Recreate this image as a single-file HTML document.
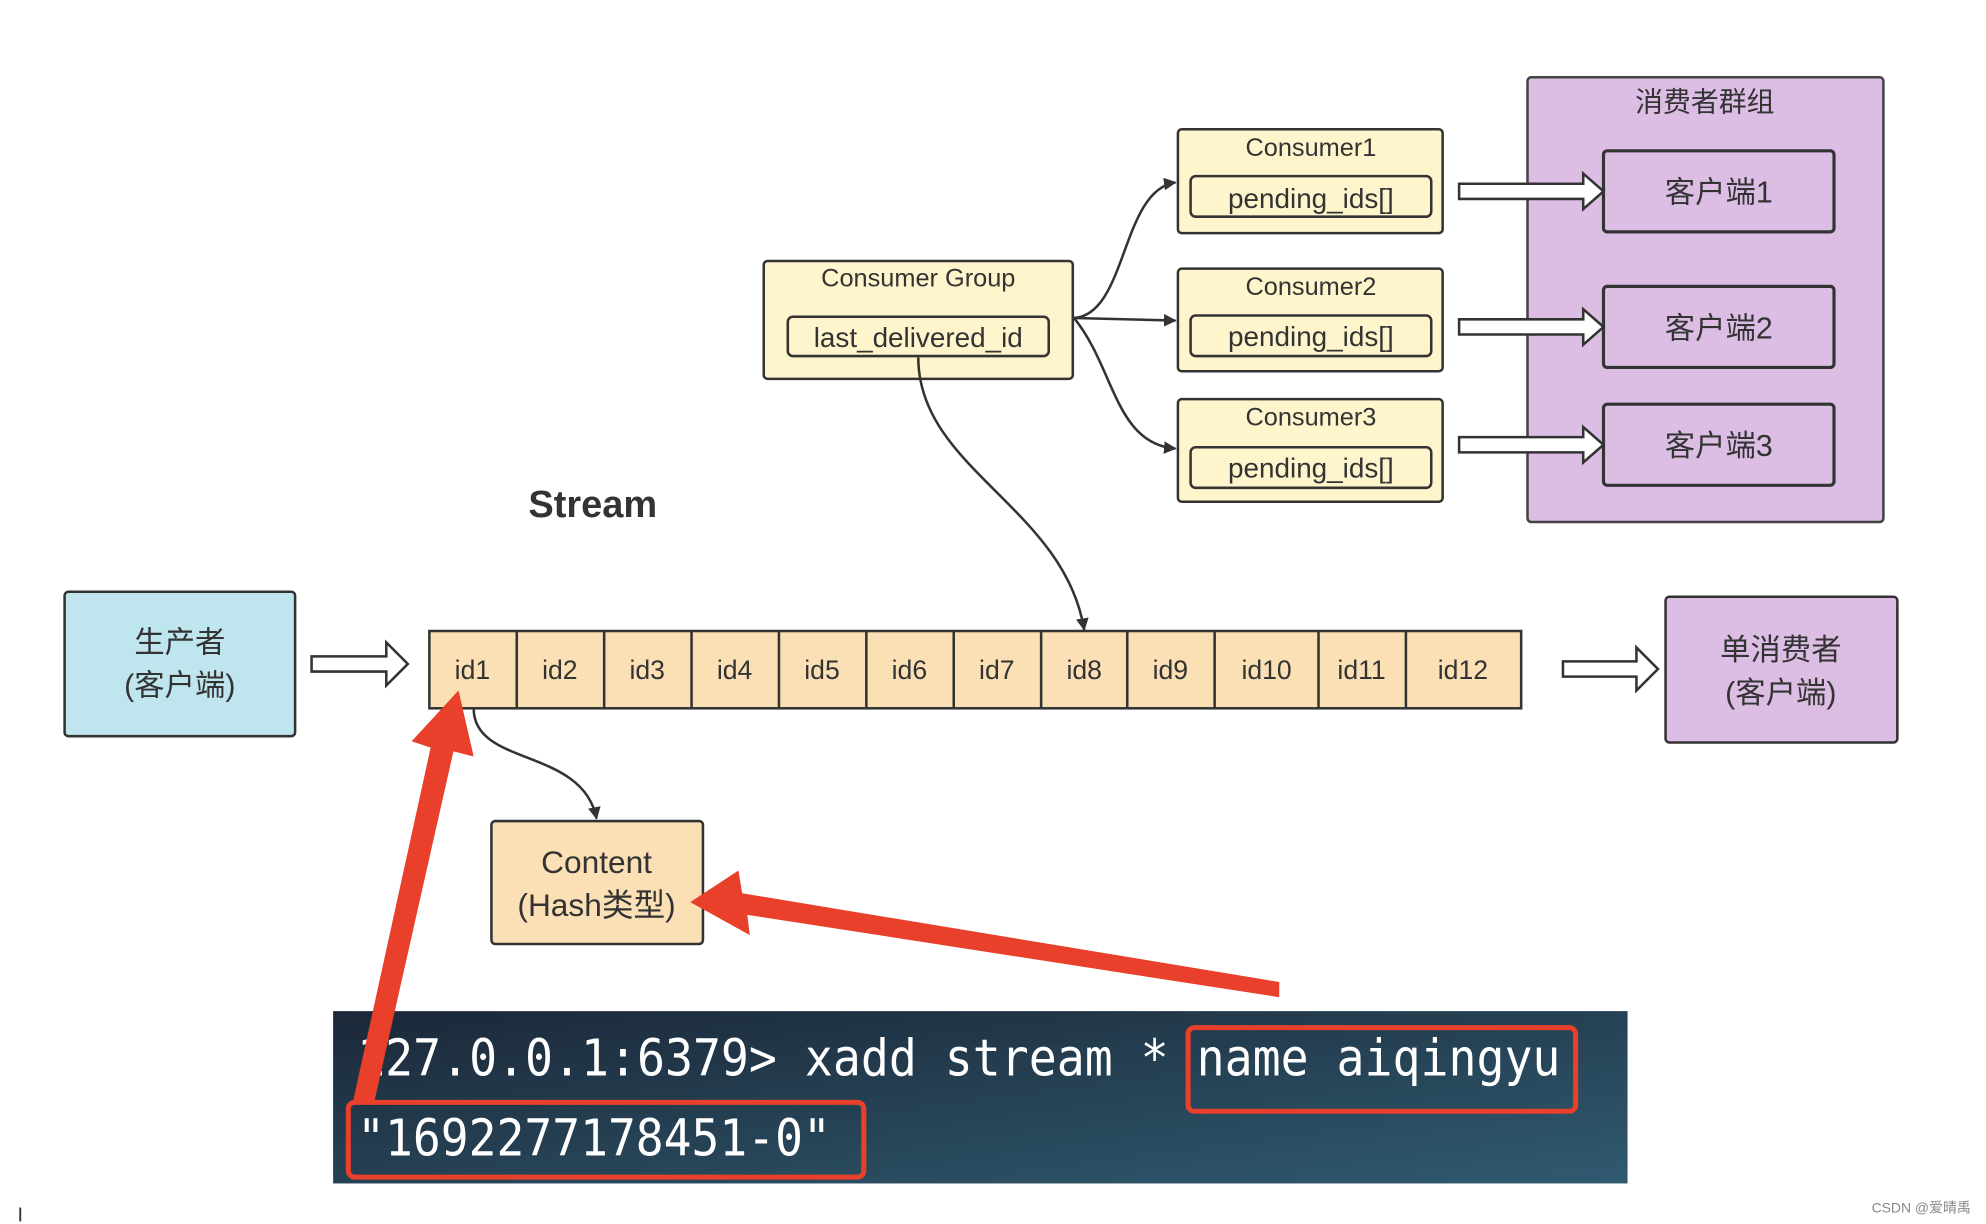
<!DOCTYPE html>
<html><head><meta charset="utf-8"><style>
html,body{margin:0;padding:0;background:#fff;width:1986px;height:1224px;overflow:hidden}
svg{display:block}
text{font-family:"Liberation Sans","Noto Sans CJK SC",sans-serif;fill:#333}
.m{font-family:"DejaVu Sans Mono","Liberation Mono",monospace;fill:#fff}
</style></head><body>
<svg width="1986" height="1224" viewBox="0 0 1568 966" preserveAspectRatio="none" xmlns="http://www.w3.org/2000/svg">
<defs>
<marker id="a" markerWidth="10" markerHeight="10" refX="9" refY="5" orient="auto" markerUnits="userSpaceOnUse"><path d="M0,0 L10,5 L0,10 Z" fill="#333"/></marker>
<linearGradient id="g" x1="0" y1="0" x2="1" y2="1"><stop offset="0" stop-color="#1b2838"/><stop offset="1" stop-color="#305a70"/></linearGradient>
</defs>
<rect x="1206" y="61" width="281" height="351" rx="3" fill="#dcbde4" stroke="#444" stroke-width="2"/>
<text x="1346" y="88" font-size="22" text-anchor="middle">消费者群组</text>
<g fill="#dcbde4" stroke="#333" stroke-width="2.5">
<rect x="1266" y="119" width="182" height="64" rx="3"/>
<rect x="1266" y="226" width="182" height="64" rx="3"/>
<rect x="1266" y="319" width="182" height="64" rx="3"/>
</g>
<text x="1357" y="160" font-size="24" text-anchor="middle">客户端1</text>
<text x="1357" y="267" font-size="24" text-anchor="middle">客户端2</text>
<text x="1357" y="360" font-size="24" text-anchor="middle">客户端3</text>
<g fill="#fff5cc" stroke="#333" stroke-width="2">
<rect x="930" y="102" width="209" height="82" rx="3"/>
<rect x="940" y="139" width="190" height="32" rx="4"/>
<rect x="930" y="212" width="209" height="81" rx="3"/>
<rect x="940" y="249" width="190" height="32" rx="4"/>
<rect x="930" y="315" width="209" height="81" rx="3"/>
<rect x="940" y="353" width="190" height="32" rx="4"/>
<rect x="603" y="206" width="244" height="93" rx="3"/>
<rect x="622" y="250" width="206" height="31" rx="4"/>
</g>
<g font-size="20" text-anchor="middle">
<text x="1035" y="123">Consumer1</text><text x="1035" y="164" font-size="22">pending_ids[]</text>
<text x="1035" y="233">Consumer2</text><text x="1035" y="273" font-size="22">pending_ids[]</text>
<text x="1035" y="336">Consumer3</text><text x="1035" y="377" font-size="22">pending_ids[]</text>
<text x="725" y="226">Consumer Group</text><text x="725" y="274" font-size="22">last_delivered_id</text>
</g>
<g fill="none" stroke="#333" stroke-width="2">
<path d="M848,251 C890,248 885,150 928,144" marker-end="url(#a)"/>
<path d="M848,251 L928,253" marker-end="url(#a)"/>
<path d="M848,251 C880,290 880,350 928,354" marker-end="url(#a)"/>
<path d="M725,282 C725,370 840,400 856,497" marker-end="url(#a)"/>
<path d="M374,560 C375,605 460,590 471,646" marker-end="url(#a)"/>
</g>
<g fill="#fff" stroke="#333" stroke-width="2">
<path d="M1152,145 L1250,145 L1250,137 L1266,151 L1250,165 L1250,157 L1152,157 Z"/>
<path d="M1152,252 L1250,252 L1250,244 L1266,258 L1250,272 L1250,264 L1152,264 Z"/>
<path d="M1152,345 L1250,345 L1250,337 L1266,351 L1250,365 L1250,357 L1152,357 Z"/>
<path d="M246,518 L305,518 L305,507 L322,524 L305,541 L305,530 L246,530 Z"/>
<path d="M1234,522 L1292,522 L1292,511 L1309,528 L1292,545 L1292,534 L1234,534 Z"/>
</g>
<text x="468" y="408" font-size="30" font-weight="bold" text-anchor="middle">Stream</text>
<rect x="51" y="467" width="182" height="114" rx="3" fill="#bfe6ee" stroke="#333" stroke-width="2"/>
<text x="142" y="515" font-size="24" text-anchor="middle">生产者</text>
<text x="142" y="549" font-size="24" text-anchor="middle">(客户端)</text>
<rect x="1315" y="471" width="183" height="115" rx="3" fill="#dcbde4" stroke="#333" stroke-width="2"/>
<text x="1406" y="521" font-size="24" text-anchor="middle">单消费者</text>
<text x="1406" y="555" font-size="24" text-anchor="middle">(客户端)</text>
<rect x="339" y="498" width="862" height="61" fill="#fbe0b5" stroke="#333" stroke-width="2"/>
<g stroke="#333" stroke-width="2">
<line x1="408" y1="498" x2="408" y2="559"/><line x1="477" y1="498" x2="477" y2="559"/>
<line x1="546" y1="498" x2="546" y2="559"/><line x1="615" y1="498" x2="615" y2="559"/>
<line x1="684" y1="498" x2="684" y2="559"/><line x1="753" y1="498" x2="753" y2="559"/>
<line x1="822" y1="498" x2="822" y2="559"/><line x1="890" y1="498" x2="890" y2="559"/>
<line x1="959" y1="498" x2="959" y2="559"/><line x1="1041" y1="498" x2="1041" y2="559"/>
<line x1="1110" y1="498" x2="1110" y2="559"/>
</g>
<g font-size="21" text-anchor="middle">
<text x="373" y="536">id1</text><text x="442" y="536">id2</text><text x="511" y="536">id3</text>
<text x="580" y="536">id4</text><text x="649" y="536">id5</text><text x="718" y="536">id6</text>
<text x="787" y="536">id7</text><text x="856" y="536">id8</text><text x="924" y="536">id9</text>
<text x="1000" y="536">id10</text><text x="1075" y="536">id11</text><text x="1155" y="536">id12</text>
</g>
<rect x="388" y="648" width="167" height="97" rx="3" fill="#fbe0b5" stroke="#333" stroke-width="2"/>
<text x="471" y="689" font-size="25" text-anchor="middle">Content</text>
<text x="471" y="723" font-size="25" text-anchor="middle">(Hash类型)</text>
<rect x="263" y="798" width="1022" height="136" fill="url(#g)"/>
<text class="m" x="282" y="849" font-size="40" textLength="950" lengthAdjust="spacingAndGlyphs">127.0.0.1:6379&gt; xadd stream * name aiqingyu</text>
<text class="m" x="282" y="912" font-size="40" textLength="374" lengthAdjust="spacingAndGlyphs">"1692277178451-0"</text>
<g fill="none" stroke="#e8402a" stroke-width="4">
<rect x="938" y="811" width="306" height="66" rx="5"/>
<rect x="275" y="870" width="407" height="59" rx="5"/>
</g>
<g fill="#e8402a">
<path d="M279,868 L340,590 L325,585 L362,545 L374,597 L358,593 L295,872 Z"/>
<path d="M1010,787 L590,722 L592,738 L545,712 L583,687 L586,705 L1010,775 Z"/>
</g>
<text x="1556" y="957" font-size="11" text-anchor="end" style="fill:#888">CSDN @爱晴禹</text>
<line x1="16" y1="953" x2="16" y2="964" stroke="#333" stroke-width="1.5"/>
</svg>
</body></html>
